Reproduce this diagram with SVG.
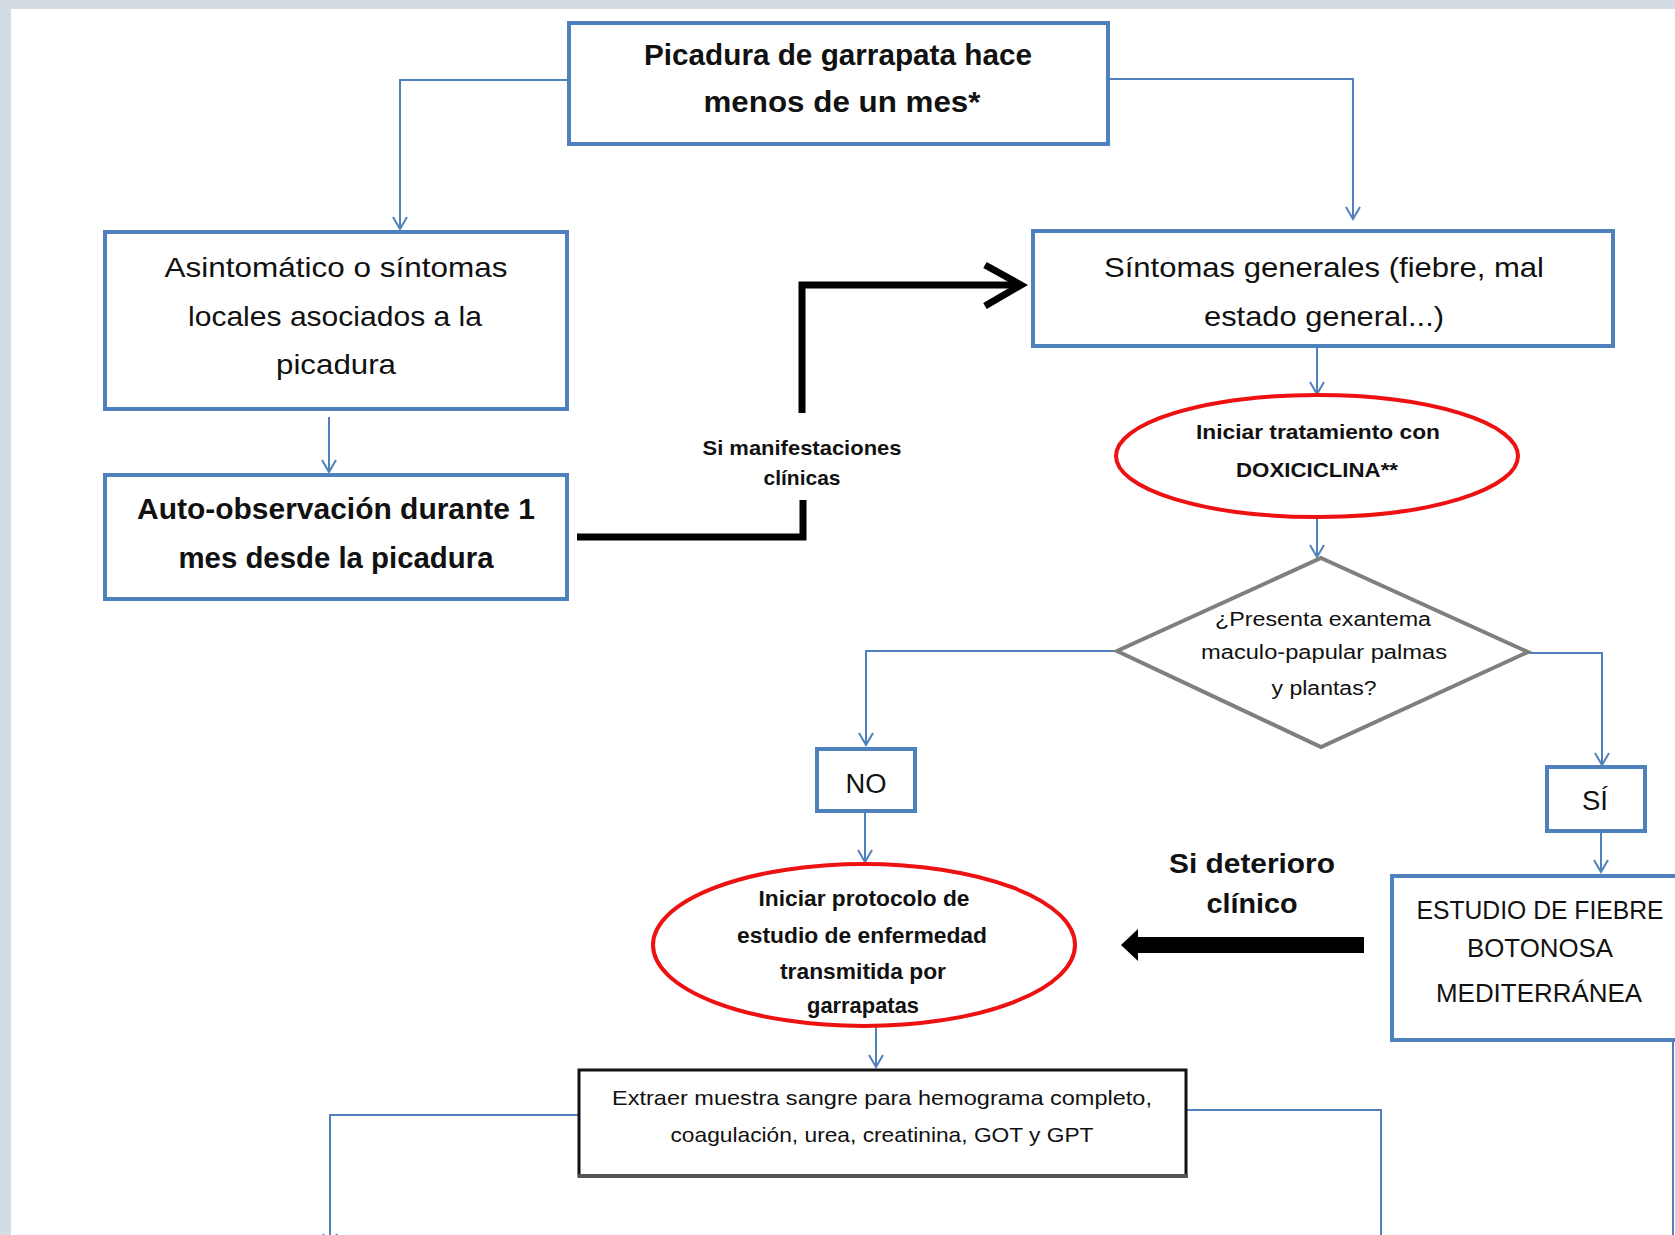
<svg xmlns="http://www.w3.org/2000/svg" width="1675" height="1235" viewBox="0 0 1675 1235">
<style>
.box{fill:#fff;stroke:#4f81bd;stroke-width:4}
.ell{fill:#fff;stroke:#ee1111;stroke-width:4}
.dia{fill:#fff;stroke:#7f7f7f;stroke-width:4}
.con{fill:none;stroke:#4f81bd;stroke-width:2}
.t{font-family:"Liberation Sans",Arial,sans-serif;fill:#111;text-anchor:middle}
.b{font-weight:bold}
</style>
<defs>
<marker id="v" viewBox="-14 -9 16 18" refX="0" refY="0" markerWidth="16" markerHeight="18" markerUnits="userSpaceOnUse" orient="auto">
<path d="M-12,-7 L0,0 L-12,7" fill="none" stroke="#4f81bd" stroke-width="2"/>
</marker>
</defs>
<rect x="0" y="0" width="1675" height="1235" fill="#d3dbe3"/>
<rect x="11" y="9" width="1664" height="1226" fill="#fff"/>

<g id="connectors">
<polyline class="con" points="568,80 400,80 400,229" marker-end="url(#v)"/>
<polyline class="con" points="1108,79 1353,79 1353,219" marker-end="url(#v)"/>
<polyline class="con" points="329,417 329,472" marker-end="url(#v)"/>
<polyline class="con" points="1317,347 1317,394" marker-end="url(#v)"/>
<polyline class="con" points="1317,517 1317,557" marker-end="url(#v)"/>
<polyline class="con" points="1117,651 866,651 866,745" marker-end="url(#v)"/>
<polyline class="con" points="1528,653 1602,653 1602,765" marker-end="url(#v)"/>
<polyline class="con" points="865,812 865,862" marker-end="url(#v)"/>
<polyline class="con" points="1601,832 1601,872" marker-end="url(#v)"/>
<polyline class="con" points="876,1027 876,1067" marker-end="url(#v)"/>
<polyline class="con" points="579,1115 330,1115 330,1246" marker-end="url(#v)"/>
<polyline class="con" points="1187,1110 1381,1110 1381,1235"/>
<line class="con" x1="1673" y1="1040" x2="1673" y2="1235"/>
<polyline points="577,537 803,537 803,500" fill="none" stroke="#000" stroke-width="7"/>
<polyline points="802,413 802,285 1020,285" fill="none" stroke="#000" stroke-width="7"/>
<polyline points="985,265 1021,285 985,306" fill="none" stroke="#000" stroke-width="7" stroke-linejoin="miter"/>
<path d="M1364,937 L1138,937 L1138,929 L1121,945 L1138,961 L1138,953 L1364,953 Z" fill="#000"/>
<text class="t b" x="802" y="455" font-size="21" textLength="199" lengthAdjust="spacingAndGlyphs">Si manifestaciones</text>
<text class="t b" x="802" y="485" font-size="21" textLength="77" lengthAdjust="spacingAndGlyphs">clínicas</text>
<text class="t b" x="1252" y="873" font-size="28" textLength="166" lengthAdjust="spacingAndGlyphs">Si deterioro</text>
<text class="t b" x="1252" y="913" font-size="28" textLength="91" lengthAdjust="spacingAndGlyphs">clínico</text>
</g>

<g id="n-picadura">
<rect class="box" x="569" y="23" width="539" height="121"/>
<text class="t b" x="838" y="65" font-size="29" textLength="388" lengthAdjust="spacingAndGlyphs">Picadura de garrapata hace</text>
<text class="t b" x="842" y="112" font-size="29" textLength="277" lengthAdjust="spacingAndGlyphs">menos de un mes*</text>
</g>

<g id="n-asintomatico">
<rect class="box" x="105" y="232" width="462" height="177"/>
<text class="t" x="336" y="277" font-size="28" textLength="343" lengthAdjust="spacingAndGlyphs">Asintomático o síntomas</text>
<text class="t" x="335" y="326" font-size="28" textLength="294" lengthAdjust="spacingAndGlyphs">locales asociados a la</text>
<text class="t" x="336" y="374" font-size="28" textLength="120" lengthAdjust="spacingAndGlyphs">picadura</text>
</g>

<g id="n-autoobs">
<rect class="box" x="105" y="475" width="462" height="124"/>
<text class="t b" x="336" y="519" font-size="29" textLength="398" lengthAdjust="spacingAndGlyphs">Auto-observación durante 1</text>
<text class="t b" x="336" y="568" font-size="29" textLength="315" lengthAdjust="spacingAndGlyphs">mes desde la picadura</text>
</g>

<g id="n-sintomas">
<rect class="box" x="1033" y="231" width="580" height="115"/>
<text class="t" x="1324" y="277" font-size="28" textLength="440" lengthAdjust="spacingAndGlyphs">Síntomas generales (fiebre, mal</text>
<text class="t" x="1324" y="326" font-size="28" textLength="240" lengthAdjust="spacingAndGlyphs">estado general...)</text>
</g>

<g id="n-doxiciclina">
<ellipse class="ell" cx="1317" cy="456" rx="201" ry="61"/>
<text class="t b" x="1318" y="439" font-size="21" textLength="244" lengthAdjust="spacingAndGlyphs">Iniciar tratamiento con</text>
<text class="t b" x="1317" y="477" font-size="21" textLength="162" lengthAdjust="spacingAndGlyphs">DOXICICLINA**</text>
</g>

<g id="n-exantema">
<polygon class="dia" points="1321,558 1528,652 1321,747 1117,651"/>
<text class="t" x="1323" y="626" font-size="20" textLength="216" lengthAdjust="spacingAndGlyphs">¿Presenta exantema</text>
<text class="t" x="1324" y="659" font-size="20" textLength="246" lengthAdjust="spacingAndGlyphs">maculo-papular palmas</text>
<text class="t" x="1324" y="695" font-size="20" textLength="105" lengthAdjust="spacingAndGlyphs">y plantas?</text>
</g>

<g id="n-no">
<rect class="box" x="817" y="749" width="98" height="62"/>
<text class="t" x="866" y="793" font-size="27" textLength="41" lengthAdjust="spacingAndGlyphs">NO</text>
</g>

<g id="n-si">
<rect class="box" x="1547" y="767" width="98" height="64"/>
<text class="t" x="1595" y="810" font-size="27" textLength="26" lengthAdjust="spacingAndGlyphs">SÍ</text>
</g>

<g id="n-protocolo">
<ellipse class="ell" cx="864" cy="945" rx="211" ry="81"/>
<text class="t b" x="864" y="906" font-size="22" textLength="211" lengthAdjust="spacingAndGlyphs">Iniciar protocolo de</text>
<text class="t b" x="862" y="943" font-size="22" textLength="250" lengthAdjust="spacingAndGlyphs">estudio de enfermedad</text>
<text class="t b" x="863" y="979" font-size="22" textLength="166" lengthAdjust="spacingAndGlyphs">transmitida por</text>
<text class="t b" x="863" y="1013" font-size="22" textLength="112" lengthAdjust="spacingAndGlyphs">garrapatas</text>
</g>

<g id="n-fiebre">
<rect class="box" x="1392" y="876" width="300" height="164"/>
<text class="t" x="1540" y="919" font-size="26" textLength="247" lengthAdjust="spacingAndGlyphs">ESTUDIO DE FIEBRE</text>
<text class="t" x="1540" y="957" font-size="26" textLength="146" lengthAdjust="spacingAndGlyphs">BOTONOSA</text>
<text class="t" x="1539" y="1002" font-size="26" textLength="206" lengthAdjust="spacingAndGlyphs">MEDITERRÁNEA</text>
</g>

<g id="n-extraer">
<rect x="579" y="1070" width="607" height="106" fill="#fff" stroke="#111" stroke-width="3"/>
<line x1="578" y1="1176" x2="1188" y2="1176" stroke="#555" stroke-width="4"/>
<text class="t" x="882" y="1105" font-size="21" textLength="540" lengthAdjust="spacingAndGlyphs">Extraer muestra sangre para hemograma completo,</text>
<text class="t" x="882" y="1142" font-size="21" textLength="423" lengthAdjust="spacingAndGlyphs">coagulación, urea, creatinina, GOT y GPT</text>
</g>
</svg>
